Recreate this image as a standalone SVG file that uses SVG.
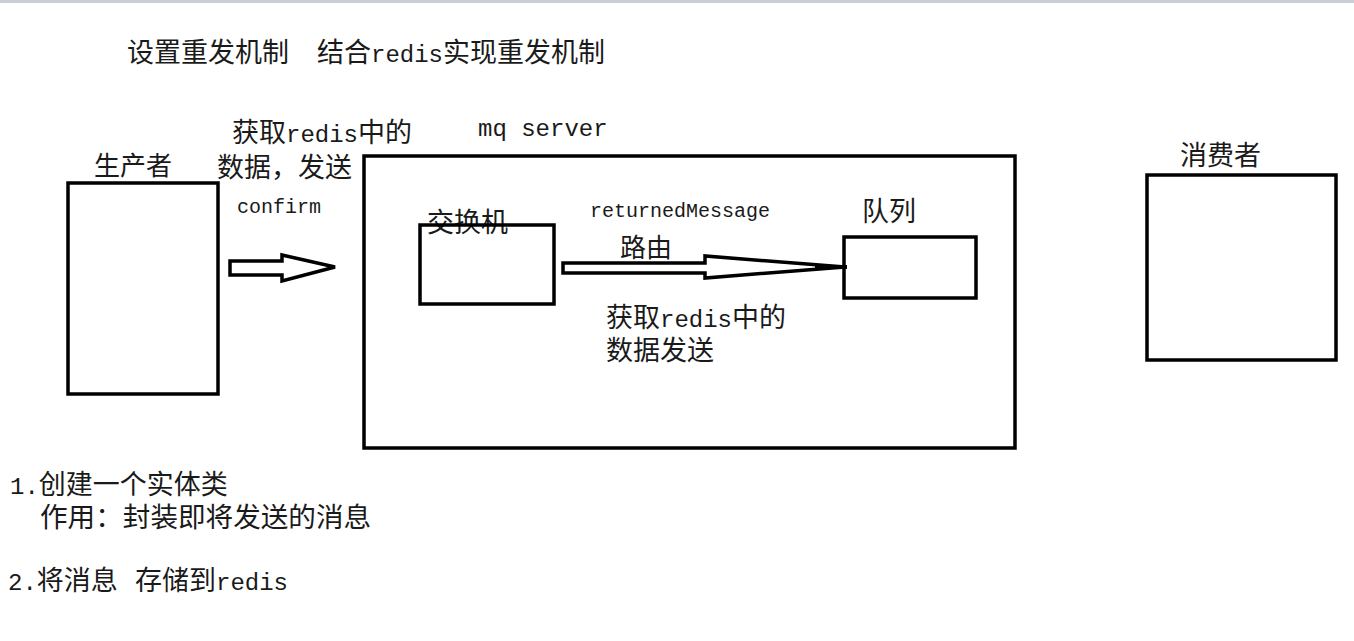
<svg xmlns="http://www.w3.org/2000/svg" width="1354" height="641" viewBox="0 0 1354 641">
<style>
.box{fill:none;stroke:#000;stroke-width:3.5}
.arrow{fill:#fff;stroke:#000;stroke-width:3.5;stroke-linejoin:miter}
.cjk{font-family:"Noto Sans CJK SC","Liberation Sans",sans-serif;font-size:27px;fill:#1a1a1a}
.lat{font-family:"Liberation Mono","Noto Sans CJK SC",monospace;font-size:24px}
.sm{font-family:"Liberation Mono","Noto Sans CJK SC",monospace;font-size:20px;fill:#1a1a1a}
</style>
<rect x="0" y="0" width="1354" height="641" fill="#fff"/>
<rect x="0" y="0" width="1354" height="3" fill="#c9cdd6"/>
<g id="title">
<text class="cjk" x="127" y="62">设置重发机制<tspan x="317">结合</tspan><tspan class="lat">redis</tspan>实现重发机制</text>
</g>
<g id="producer">
<rect class="box" x="68" y="183" width="150" height="211"/>
<text class="cjk" x="94" y="175" style="font-size:26px">生产者</text>
</g>
<g id="mq-server">
<rect class="box" x="364" y="156" width="651" height="292"/>
<text class="sm" x="478" y="136" style="font-size:24px">mq server</text>
</g>
<g id="exchange">
<text class="cjk" x="427" y="232">交换机</text>
<rect class="box" x="420" y="225" width="134" height="79"/>
</g>
<g id="queue">
<rect class="box" x="844" y="237" width="132" height="61"/>
<text class="cjk" x="862" y="221">队列</text>
</g>
<g id="consumer">
<rect class="box" x="1147" y="175" width="189" height="185"/>
<text class="cjk" x="1180" y="165">消费者</text>
</g>
<g id="connectors">
<polygon class="arrow" points="230,261 282,261 282,255 335,267 282,281 282,275 230,275"/>
<polygon class="arrow" points="563,263 705,263 705,256 845,267 705,278 705,273 563,273"/>
<line x1="815" y1="267" x2="847" y2="267" stroke="#000" stroke-width="4"/>
</g>
<g id="labels">
<text class="cjk" x="232" y="142">获取<tspan class="lat">redis</tspan>中的</text>
<text class="cjk" x="217" y="177">数据，发送</text>
<text class="sm" x="237" y="213">confirm</text>
<text class="sm" x="590" y="217">returnedMessage</text>
<text class="cjk" x="620" y="257" style="font-size:26px">路由</text>
<text class="cjk" x="606" y="327">获取<tspan class="lat">redis</tspan>中的</text>
<text class="cjk" x="606" y="360">数据发送</text>
</g>
<g id="notes">
<text class="cjk" x="10" y="494"><tspan class="lat">1.</tspan>创建一个实体类</text>
<text class="cjk" x="40" y="527" style="font-size:27.6px">作用：封装即将发送的消息</text>
<text class="cjk" x="8" y="590"><tspan class="lat">2.</tspan>将消息<tspan x="135">存储到</tspan><tspan class="lat">redis</tspan></text>
</g>
</svg>
